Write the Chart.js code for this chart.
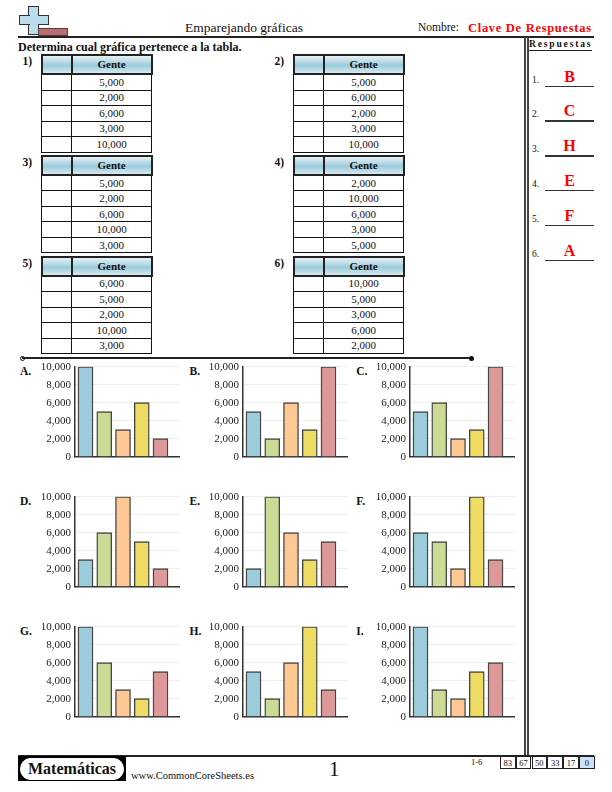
<!DOCTYPE html>
<html>
<head>
<meta charset="utf-8">
<title>Emparejando gráficas</title>
<script src="https://cdn.jsdelivr.net/npm/chart.js@4"></script>
<style>
  html, body { margin: 0; padding: 0; background: #fff; }
  body { width: 612px; height: 792px; position: relative; overflow: hidden; font-family: "Liberation Serif", serif; color: #111; }
  .abs { position: absolute; white-space: nowrap; }
  .line { position: absolute; background: #222; }
  table { position: absolute; border-collapse: collapse; table-layout: fixed; width: 112px; font-size: 11px; }
  td, th { border: 1px solid #111; padding: 0; text-align: center; height: 14.5px; line-height: 13px; }
  th { border: 2px solid #222; height: 17px; font-size: 11px; background: linear-gradient(#e6f1f5, #9ccbdc 55%, #d5e8ef); }
  .chart { position: absolute; width: 160px; height: 104px; }
  .letter { position: absolute; font-weight: bold; font-size: 11.5px; }
  .num { position: absolute; font-weight: bold; font-size: 11.5px; }
  .ans { position: absolute; left: 545px; width: 49px; text-align: center; color: #f00; font-weight: bold; font-size: 16px; }
  .ansline { position: absolute; left: 545px; width: 49px; height: 1.5px; background: #333; }
  .ansnum { position: absolute; left: 532px; font-size: 9.5px; }
  .score { position: absolute; top: 756px; height: 13px; border: 1px solid #222; font-size: 8.5px; line-height: 12px; text-align: center; box-sizing: border-box; width: 15.5px; }
</style>
</head>
<body>
<!-- header -->
<div class="abs" style="left:28px;top:6px;width:11px;height:29px;background:#bcdcec;border:1.5px solid #333;box-sizing:border-box"></div>
<div class="abs" style="left:19px;top:15px;width:30px;height:10px;background:#bcdcec;border:1.5px solid #333;box-sizing:border-box"></div>
<div class="abs" style="left:29.5px;top:14px;width:8px;height:12px;background:#bcdcec"></div>
<div class="abs" style="left:38px;top:28px;width:30px;height:8px;background:#bd6b6b;border:1px solid #444;box-sizing:border-box"></div>
<div class="abs" style="left:185px;top:20px;font-size:13.5px">Emparejando gráficas</div>
<div class="abs" style="left:418px;top:21px;font-size:11.5px">Nombre:</div>
<div class="abs" style="left:468px;top:21px;font-size:12.5px;font-weight:bold;color:#f00;letter-spacing:0.7px">Clave De Respuestas</div>
<div class="line" style="left:18px;top:36px;width:576px;height:2px"></div>
<div class="abs" style="left:18px;top:40px;font-size:12px;font-weight:bold">Determina cual gráfica pertenece a la tabla.</div>

<!-- answer column -->
<div class="line" style="left:524px;top:37px;width:1.5px;height:718px;background:#444"></div>
<div class="line" style="left:527px;top:37px;width:1.5px;height:718px;background:#444"></div>
<div class="abs" style="left:529px;top:39px;font-size:9.5px;font-weight:bold;letter-spacing:1.85px;border-bottom:1px solid #222;line-height:10px;padding-bottom:1px">Respuestas</div>

<!-- divider above the graphs -->
<div class="line" style="left:22px;top:357px;width:450px;height:1.5px"></div>
<div class="abs" style="left:19.5px;top:355.5px;width:5px;height:5px;border:1px solid #111;border-radius:50%;box-sizing:border-box"></div>
<div class="abs" style="left:469px;top:355.5px;width:5px;height:5px;background:#111;border-radius:50%"></div>

<!-- footer -->
<div class="line" style="left:18px;top:755px;width:576px;height:1.5px"></div>
<div class="abs" style="left:18px;top:756px;width:108px;height:25px;background:#000"></div>
<div class="abs" style="left:20px;top:758px;width:104px;height:22px;background:#fff;border-radius:11px;text-align:center;font-weight:bold;font-size:16px;line-height:21px">Matemáticas</div>
<div class="abs" style="left:131px;top:770px;font-size:10.5px">www.CommonCoreSheets.es</div>
<div class="abs" style="left:329px;top:757px;font-size:21px">1</div>
<div class="abs" style="left:471px;top:757px;font-size:8.5px">1-6</div>

<script>
const categories = ["Bar 1", "Bar 2", "Bar 3", "Bar 4", "Bar 5"];
const barColors = ["#9ccbdc", "#cbdc96", "#fec895", "#eedc64", "#dd9999"];
const yTicks = [0, 2000, 4000, 6000, 8000, 10000];

// GRAPHS
const graphLetters = ["A", "B", "C", "D", "E", "F", "G", "H", "I"];
const graphA = [10000, 5000, 3000, 6000, 2000];
const graphB = [5000, 2000, 6000, 3000, 10000];
const graphC = [5000, 6000, 2000, 3000, 10000];
const graphD = [3000, 6000, 10000, 5000, 2000];
const graphE = [2000, 10000, 6000, 3000, 5000];
const graphF = [6000, 5000, 2000, 10000, 3000];
const graphG = [10000, 6000, 3000, 2000, 5000];
const graphH = [5000, 2000, 6000, 10000, 3000];
const graphI = [10000, 3000, 2000, 5000, 6000];
const graphs = [graphA, graphB, graphC, graphD, graphE, graphF, graphG, graphH, graphI];

// TABLES
const table1 = [5000, 2000, 6000, 3000, 10000];
const table2 = [5000, 6000, 2000, 3000, 10000];
const table3 = [5000, 2000, 6000, 10000, 3000];
const table4 = [2000, 10000, 6000, 3000, 5000];
const table5 = [6000, 5000, 2000, 10000, 3000];
const table6 = [10000, 5000, 3000, 6000, 2000];
const tables = [table1, table2, table3, table4, table5, table6];
const answers = ["B", "C", "H", "E", "F", "A"];
const scores = ["83", "67", "50", "33", "17", "0"];

const fmt = v => v.toLocaleString("en-US");

tables.forEach((t, i) => {
  const left = i % 2 ? 292.5 : 40.5;
  const top = 54 + Math.floor(i / 2) * 100.8;
  const el = document.createElement("table");
  el.style.left = left + "px";
  el.style.top = top + "px";
  el.innerHTML = `<colgroup><col style="width:30px"><col></colgroup>
    <tr><th></th><th>Gente</th></tr>` +
    t.map(v => `<tr><td></td><td>${fmt(v)}</td></tr>`).join("");
  document.body.appendChild(el);

  const n = document.createElement("div");
  n.className = "num";
  n.style.left = (left - 18) + "px";
  n.style.top = (top + 1) + "px";
  n.textContent = (i + 1) + ")";
  document.body.appendChild(n);
});

answers.forEach((a, i) => {
  const lineY = 85.5 + i * 34.8;
  document.body.insertAdjacentHTML("beforeend",
    `<div class="ansnum" style="top:${lineY - 11}px">${i + 1}.</div>
     <div class="ans" style="top:${lineY - 18}px">${a}</div>
     <div class="ansline" style="top:${lineY}px"></div>`);
});

scores.forEach((s, i) => {
  const last = i === scores.length - 1;
  document.body.insertAdjacentHTML("beforeend",
    `<div class="score" style="left:${500 + i * 15.8}px${last ? ";background:#cfe0fb" : ""}">${s}</div>`);
});

// CHARTS
graphs.forEach((values, i) => {
  const col = i % 3;
  const row = Math.floor(i / 3);
  const left = 20 + col * 167.6;
  const top = 360 + row * 130;

  const label = document.createElement("div");
  label.className = "letter";
  label.textContent = graphLetters[i] + ".";
  label.style.left = (left + [0, 2, 1][col]) + "px";
  label.style.top = (top + 5) + "px";
  document.body.appendChild(label);

  const box = document.createElement("div");
  box.className = "chart";
  box.style.left = left + "px";
  box.style.top = top + "px";
  const canvas = document.createElement("canvas");
  box.appendChild(canvas);
  document.body.appendChild(box);

  new Chart(canvas, {
    type: "bar",
    data: {
      labels: categories,
      datasets: [{
        data: values.map((v, k) => ({ x: k + 1, y: v })),
        backgroundColor: barColors,
        borderColor: "#444",
        borderWidth: 1.4,
        barThickness: 15
      }]
    },
    options: {
      responsive: true,
      maintainAspectRatio: false,
      animation: false,
      layout: { autoPadding: false, padding: { top: 6.7, bottom: 7.3, left: 0, right: 0 } },
      plugins: { legend: { display: false }, tooltip: { enabled: false } },
      scales: {
        x: {
          type: "linear",
          offset: false,
          min: 0.44,
          max: 6.04,
          afterFit: s => { s.height = 0; s.paddingLeft = 0; s.paddingRight = 0; },
          ticks: { display: false },
          grid: { display: false, drawTicks: false },
          border: { color: "#333", width: 1.5 }
        },
        y: {
          min: 0,
          max: 10000,
          // the tick labels overhang the plot, the axis should not shrink for them
          afterFit: s => { s.width = 55; s.paddingTop = 0; s.paddingBottom = 0; },
          afterBuildTicks: s => { s.ticks = yTicks.map(v => ({ value: v })); },
          ticks: {
            padding: 4,
            autoSkip: false,
            color: "#222",
            font: { family: "Liberation Serif", size: 11 },
            callback: v => fmt(v)
          },
          grid: { color: "#eeeeee", lineWidth: 1, drawTicks: false },
          border: { color: "#333", width: 1.5 }
        }
      }
    }
  });
});
</script>
</body>
</html>
